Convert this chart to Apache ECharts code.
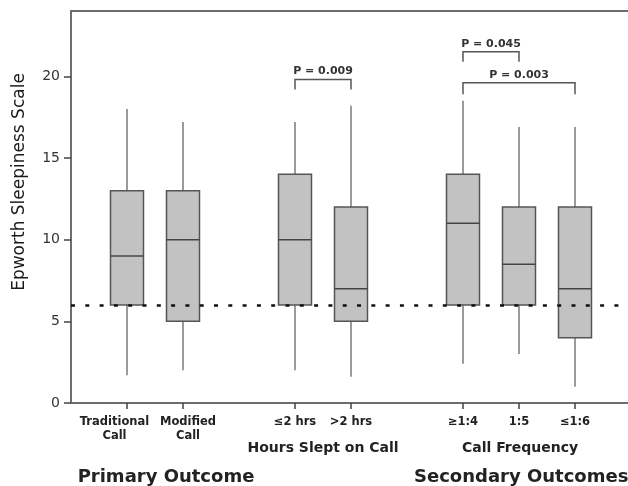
<!DOCTYPE html>
<html>
<head>
<meta charset="utf-8">
<script src="https://cdn.jsdelivr.net/npm/echarts@6/dist/echarts.min.js"></script>
<style>html,body{margin:0;padding:0;background:#fff;}#c{width:628px;height:486px;}</style>
</head>
<body>
<div id="c"></div>
<script>
// Axis categories (blank slots separate the groups)
const categories = ['', 'Traditional\nCall', 'Modified\nCall', '', '≤2 hrs', '>2 hrs', '', '≥1:4', '1:5', '≤1:6', ''];
// Box plot values
const boxCats = ['Traditional\nCall', 'Modified\nCall', '≤2 hrs', '>2 hrs', '≥1:4', '1:5', '≤1:6'];
const minVals = [1.7, 2.0, 2.0, 1.6, 2.4, 3.0, 1.0];
const q1Vals  = [6, 5, 6, 5, 6, 6, 4];
const medVals = [9, 10, 10, 7, 11, 8.5, 7];
const q3Vals  = [13, 13, 14, 12, 14, 12, 12];
const maxVals = [18, 17.2, 17.2, 18.2, 18.5, 16.9, 16.9];
// Cutoff line
const cutoff = 6;
// Y ticks
const yTicks = [0, 5, 10, 15, 20];
// Significance brackets
const bracketFrom = ['≤2 hrs', '≥1:4', '≥1:4'];
const bracketTo   = ['>2 hrs', '1:5', '≤1:6'];
const bracketTop  = [19.8, 21.5, 19.6];
const bracketEnd  = [19.2, 20.9, 18.9];
const bracketLabels = ['P = 0.009', 'P = 0.045', 'P = 0.003'];
// Group titles
const groupTitles = ['Hours Slept on Call', 'Call Frequency'];
const sectionTitles = ['Primary Outcome', 'Secondary Outcomes'];
const yTitle = 'Epworth Sleepiness Scale';

const FONT = 'DejaVu Sans';
const chart = echarts.init(document.getElementById('c'), null, {renderer: 'canvas'});

const boxData = boxCats.map((c, i) => [categories.indexOf(c), minVals[i], q1Vals[i], medVals[i], q3Vals[i], maxVals[i]]);
const bracketData = bracketLabels.map((l, i) => [categories.indexOf(bracketFrom[i]), categories.indexOf(bracketTo[i]), bracketTop[i], bracketEnd[i], l]);

// label nudges for the two crowded primary-outcome labels
const labelStyleFor = {1: 'left', 2: 'right'};
function fmtLabel(v, i) {
  const s = labelStyleFor[i] || 'n';
  return String(v).split('\n').map(t => '{' + s + '|' + t + '}').join('\n');
}
const base = {fontFamily: FONT, fontWeight: 'bold', fontSize: 11.5, lineHeight: 14, color: '#222'};

const option = {
  backgroundColor: '#fff',
  animation: false,
  grid: {left: 71, right: -3, top: 11, bottom: 83, outerBoundsMode: 'none', containLabel: false,
         show: true, borderColor: '#6e6e6e', borderWidth: 2, backgroundColor: 'transparent'},
  xAxis: {
    type: 'category', data: categories, boundaryGap: false,
    axisLine: {lineStyle: {color: '#6e6e6e', width: 2}},
    axisTick: {interval: (i, v) => v !== '', length: 6, lineStyle: {color: '#444', width: 1.5}},
    axisLabel: {interval: 0, margin: 12, hideOverlap: false, overflow: 'none',
                fontFamily: FONT, fontWeight: 'bold', fontSize: 11.5, lineHeight: 14, color: '#222',
                formatter: fmtLabel,
                rich: {
                  n: Object.assign({}, base),
                  left: Object.assign({}, base, {padding: [0, 25, 0, 0]}),
                  right: Object.assign({}, base, {padding: [0, 0, 0, 10]})
                }},
    splitLine: {show: false}
  },
  yAxis: {
    type: 'value', min: 0, max: 24,
    axisLine: {show: true, lineStyle: {color: '#6e6e6e', width: 2}},
    axisTick: {show: true, customValues: yTicks, length: 7, lineStyle: {color: '#444', width: 1.5}},
    axisLabel: {customValues: yTicks, margin: 11, fontFamily: FONT, fontSize: 14, color: '#333'},
    splitLine: {show: false}
  },
  series: [
    {
      type: 'custom', name: 'boxes', z: 2,
      data: boxData,
      encode: {x: 0, y: [1, 2, 3, 4, 5]},
      renderItem: function (params, api) {
        const x = api.value(0);
        const pMin = api.coord([x, api.value(1)]);
        const pQ1 = api.coord([x, api.value(2)]);
        const pMed = api.coord([x, api.value(3)]);
        const pQ3 = api.coord([x, api.value(4)]);
        const pMax = api.coord([x, api.value(5)]);
        const hw = 16.5;
        const wStyle = {stroke: '#7a7a7a', lineWidth: 1.5};
        return {
          type: 'group',
          children: [
            {type: 'line', shape: {x1: pQ3[0], y1: pQ3[1], x2: pMax[0], y2: pMax[1]}, style: wStyle},
            {type: 'line', shape: {x1: pQ1[0], y1: pQ1[1], x2: pMin[0], y2: pMin[1]}, style: wStyle},
            {type: 'rect', shape: {x: pQ3[0] - hw, y: pQ3[1], width: hw * 2, height: pQ1[1] - pQ3[1]},
             style: {fill: '#c2c2c2', stroke: '#555', lineWidth: 1.5}},
            {type: 'line', shape: {x1: pMed[0] - hw, y1: pMed[1], x2: pMed[0] + hw, y2: pMed[1]}, style: {stroke: '#444', lineWidth: 1.5}}
          ]
        };
      }
    },
    {
      type: 'custom', name: 'brackets', z: 3,
      data: bracketData,
      encode: {x: [0, 1], y: [2, 3]},
      renderItem: function (params, api) {
        const a = api.value(0), b = api.value(1);
        const top = api.value(2), end = api.value(3);
        const p1 = api.coord([a, end]), p2 = api.coord([a, top]);
        const p3 = api.coord([b, top]), p4 = api.coord([b, end]);
        const label = bracketData[params.dataIndex][4];
        return {
          type: 'group',
          children: [
            {type: 'polyline', shape: {points: [p1, p2, p3, p4]}, style: {stroke: '#555', lineWidth: 1.5, fill: null}},
            {type: 'text', x: (p2[0] + p3[0]) / 2, y: p2[1] - 8,
             style: {text: label, fontFamily: FONT, fontWeight: 'bold', fontSize: 11, fill: '#333', align: 'center', verticalAlign: 'middle'}}
          ]
        };
      }
    },
    {
      type: 'line', name: 'cutoff', data: [], z: 5,
      markLine: {
        silent: true, symbol: 'none', label: {show: false},
        lineStyle: {color: '#111', width: 2.5, type: [4, 10.3]},
        data: [{yAxis: cutoff}]
      }
    }
  ],
  graphic: [
    {type: 'text', x: 20, y: 182, rotation: Math.PI / 2,
     style: {text: yTitle, fontFamily: FONT, fontSize: 17, fill: '#1a1a1a', align: 'center', verticalAlign: 'middle'}},
    {type: 'text', x: 323, y: 448,
     style: {text: groupTitles[0], fontFamily: FONT, fontWeight: 'bold', fontSize: 14, fill: '#222', align: 'center', verticalAlign: 'middle'}},
    {type: 'text', x: 520, y: 448,
     style: {text: groupTitles[1], fontFamily: FONT, fontWeight: 'bold', fontSize: 14, fill: '#222', align: 'center', verticalAlign: 'middle'}},
    {type: 'text', x: 166, y: 477,
     style: {text: sectionTitles[0], fontFamily: FONT, fontWeight: 'bold', fontSize: 18, fill: '#222', align: 'center', verticalAlign: 'middle'}},
    {type: 'text', x: 414, y: 477,
     style: {text: sectionTitles[1], fontFamily: FONT, fontWeight: 'bold', fontSize: 18, fill: '#222', align: 'left', verticalAlign: 'middle'}}
  ]
};
chart.setOption(option);
</script>
</body>
</html>
